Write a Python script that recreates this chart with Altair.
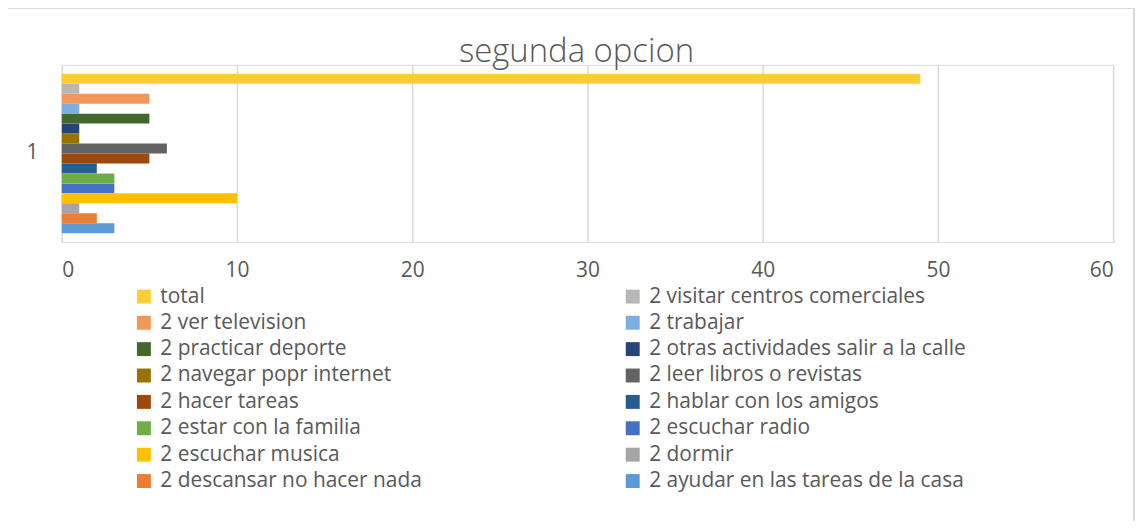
import altair as alt
import pandas as pd

series = [
    "total",
    "2 visitar centros comerciales",
    "2 ver television",
    "2 trabajar",
    "2 practicar deporte",
    "2 otras actividades salir a la calle",
    "2 navegar popr internet",
    "2 leer libros o revistas",
    "2 hacer tareas",
    "2 hablar con los amigos",
    "2 estar con la familia",
    "2 escuchar radio",
    "2 escuchar musica",
    "2 dormir",
    "2 descansar no hacer nada",
    "2 ayudar en las tareas de la casa",
]
values = [49, 1, 5, 1, 5, 1, 1, 6, 5, 2, 3, 3, 10, 1, 2, 3]
colors = [
    "#FFCD33", "#B7B7B7", "#F1975A", "#7CAFDD", "#43682B", "#264478",
    "#997300", "#636363", "#9E480E", "#255E91", "#70AD47", "#4472C4",
    "#FFC000", "#A5A5A5", "#ED7D31", "#5B9BD5",
]
group = "1"
title_text = "segunda opcion"

df = pd.DataFrame({"serie": series, "valor": values, "grupo": [group] * len(series)})

# legend is filled column by column: reorder so it reads row by row like the reference
legend_order = series[0::2] + series[1::2]
legend_colors = [colors[series.index(s)] for s in legend_order]

FONT = "Open Sans"
TXT = "#595959"

bars = alt.Chart(df).mark_bar(size=10).encode(
    x=alt.X("valor:Q", scale=alt.Scale(domain=[0, 60]),
            axis=alt.Axis(values=[0, 10, 20, 30, 40, 50, 60], title=None, domain=False,
                          ticks=False, labelFontSize=21, labelColor=TXT, labelFont=FONT,
                          labelPadding=18, grid=True, gridColor="#D9D9D9", gridWidth=1.5)),
    y=alt.Y("grupo:N", scale=alt.Scale(paddingInner=0, paddingOuter=0.056),
            axis=alt.Axis(title=None, domain=False, ticks=False, labelFontSize=21,
                          labelColor=TXT, labelFont=FONT, labelPadding=24)),
    yOffset=alt.YOffset("serie:N", sort=series, scale=alt.Scale(domain=series, paddingInner=0, paddingOuter=0)),
    color=alt.Color("serie:N", scale=alt.Scale(domain=legend_order, range=legend_colors),
                    legend=alt.Legend(title=None, orient="none", legendX=72, legendY=222,
                                      columns=2, columnPadding=201, rowPadding=4.5,
                                      symbolType="square", symbolSize=196, symbolStrokeWidth=0,
                                      labelFontSize=21, labelColor=TXT, labelFont=FONT,
                                      labelLimit=600, labelOffset=6)),
)

border = alt.Chart(df).mark_rect(fill=None, stroke="#D9D9D9", strokeWidth=1).encode(
    x=alt.value(-55), x2=alt.value(1077), y=alt.value(-57), y2=alt.value(480)
)

title = alt.Chart(pd.DataFrame({"t": [title_text]})).mark_text(
    font=FONT, fontSize=33, fontWeight=300, color=TXT, baseline="alphabetic", align="center"
).encode(text="t:N", x=alt.value(517), y=alt.value(-3))

chart = alt.layer(border, bars, title).properties(
    width=1056, height=178,
    autosize=alt.AutoSizeParams(type="none"),
    padding={"left": 54, "top": 56, "right": 22, "bottom": 279},
).configure_view(stroke=None).configure(background="white")

chart.save("out.html", embed_options={"renderer": "svg", "actions": False})
